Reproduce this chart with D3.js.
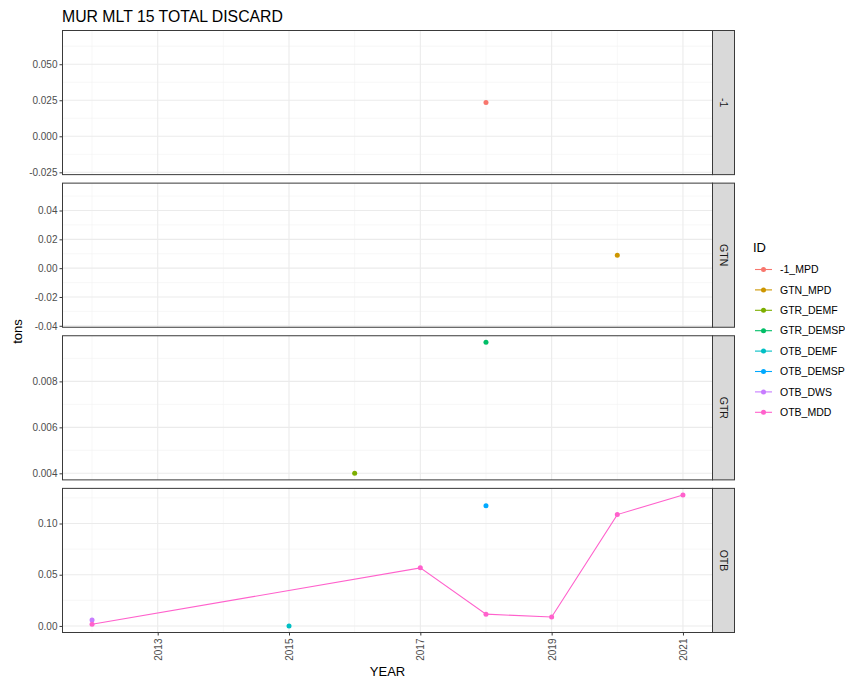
<!DOCTYPE html>
<html>
<head>
<meta charset="utf-8">
<script src="https://cdn.jsdelivr.net/npm/d3@7"></script>
<style>
  html, body { margin: 0; padding: 0; background: #fff; }
  svg { display: block; font-family: "Liberation Sans", Arial, sans-serif; }
</style>
</head>
<body>
<svg id="chart" width="845" height="681"></svg>
<script>
// ---------- data ----------
const title = "MUR MLT 15 TOTAL DISCARD";
const xLabel = "YEAR";
const yLabel = "tons";
const facets = ["-1", "GTN", "GTR", "OTB"];
const ids = ["-1_MPD", "GTN_MPD", "GTR_DEMF", "GTR_DEMSP", "OTB_DEMF", "OTB_DEMSP", "OTB_DWS", "OTB_MDD"];
const idFacet = ["-1", "GTN", "GTR", "GTR", "OTB", "OTB", "OTB", "OTB"];
const idColors = ["#F8766D", "#CD9600", "#7CAE00", "#00BE67", "#00BFC4", "#00A9FF", "#C77CFF", "#FF61CC"];

const yearsM1MPD = [2018];        const valsM1MPD = [0.0234];
const yearsGTNMPD = [2020];       const valsGTNMPD = [0.009];
const yearsGTRDEMF = [2016];      const valsGTRDEMF = [0.004];
const yearsGTRDEMSP = [2018];     const valsGTRDEMSP = [0.0097];
const yearsOTBDEMF = [2015];      const valsOTBDEMF = [0.0];
const yearsOTBDEMSP = [2018];     const valsOTBDEMSP = [0.1173];
const yearsOTBDWS = [2012];       const valsOTBDWS = [0.0058];
const yearsOTBMDD = [2012, 2017, 2018, 2019, 2020, 2021];
const valsOTBMDD = [0.0016, 0.0567, 0.0115, 0.0087, 0.1087, 0.1279];

const xTicks = [2013, 2015, 2017, 2019, 2021];
const xMinor = [2012, 2014, 2016, 2018, 2020];
const yTicksM1 = [-0.025, 0.000, 0.025, 0.050];
const yTicksGTN = [-0.04, -0.02, 0.00, 0.02, 0.04];
const yTicksGTR = [0.004, 0.006, 0.008];
const yTicksOTB = [0.00, 0.05, 0.10];
const yDecimals = [3, 2, 3, 2];

// ---------- assemble ----------
const seriesYears = [yearsM1MPD, yearsGTNMPD, yearsGTRDEMF, yearsGTRDEMSP, yearsOTBDEMF, yearsOTBDEMSP, yearsOTBDWS, yearsOTBMDD];
const seriesVals = [valsM1MPD, valsGTNMPD, valsGTRDEMF, valsGTRDEMSP, valsOTBDEMF, valsOTBDEMSP, valsOTBDWS, valsOTBMDD];
const series = ids.map((id, i) => ({
  id, facet: idFacet[i], color: idColors[i],
  pts: seriesYears[i].map((y, j) => ({ year: y, value: seriesVals[i][j] }))
}));
const yTicksAll = [yTicksM1, yTicksGTN, yTicksGTR, yTicksOTB];

// ---------- layout ----------
const svg = d3.select("#chart");
const panelLeft = 62.5, panelRight = 712.5;
const stripW = 22;
const topY = 30.5, bottomY = 632.5;
const gap = 8.5;
const panelH = (bottomY - topY - gap * 3) / 4;
const borderCol = "#3a3a3a";

const allYears = seriesYears.flat();
const xMin = d3.min(allYears), xMax = d3.max(allYears);
const xPad = (xMax - xMin) * 0.05;
const x = d3.scaleLinear().domain([xMin - xPad, xMax + xPad]).range([panelLeft, panelRight]);

// title
svg.append("text").attr("x", 62).attr("y", 21.5)
  .attr("font-size", 15.8).attr("fill", "#000").text(title);

facets.forEach((f, fi) => {
  const py0 = topY + fi * (panelH + gap);
  const py1 = py0 + panelH;
  const fs = series.filter(s => s.facet === f);
  const vals = fs.flatMap(s => s.pts.map(p => p.value));
  let lo = d3.min(vals), hi = d3.max(vals);
  const w = (hi - lo) === 0 ? 1 : (hi - lo);
  lo -= w * 0.05; hi += w * 0.05;
  const y = d3.scaleLinear().domain([lo, hi]).range([py1, py0]);
  const ticks = yTicksAll[fi];
  const step = ticks[1] - ticks[0];
  const minorY = [];
  for (let t = ticks[0] - step / 2; t <= hi; t += step) {
    if (t >= lo && t <= hi) minorY.push(t);
  }

  const g = svg.append("g");
  g.append("rect").attr("x", panelLeft).attr("y", py0)
    .attr("width", panelRight - panelLeft).attr("height", panelH).attr("fill", "#fff");

  // minor grid
  g.selectAll(".ymin").data(minorY).enter().append("line")
    .attr("x1", panelLeft).attr("x2", panelRight)
    .attr("y1", d => y(d)).attr("y2", d => y(d))
    .attr("stroke", "#F2F2F2").attr("stroke-width", 0.6);
  g.selectAll(".xmin").data(xMinor).enter().append("line")
    .attr("y1", py0).attr("y2", py1)
    .attr("x1", d => x(d)).attr("x2", d => x(d))
    .attr("stroke", "#F2F2F2").attr("stroke-width", 0.6);
  // major grid
  g.selectAll(".ymaj").data(ticks).enter().append("line")
    .attr("x1", panelLeft).attr("x2", panelRight)
    .attr("y1", d => y(d)).attr("y2", d => y(d))
    .attr("stroke", "#EBEBEB").attr("stroke-width", 1.1);
  g.selectAll(".xmaj").data(xTicks).enter().append("line")
    .attr("y1", py0).attr("y2", py1)
    .attr("x1", d => x(d)).attr("x2", d => x(d))
    .attr("stroke", "#EBEBEB").attr("stroke-width", 1.1);

  // lines & points
  const line = d3.line().x(d => x(d.year)).y(d => y(d.value));
  fs.forEach(s => {
    if (s.pts.length > 1) {
      g.append("path").datum(s.pts).attr("d", line)
        .attr("fill", "none").attr("stroke", s.color).attr("stroke-width", 1.1);
    }
    g.selectAll(null).data(s.pts).enter().append("circle")
      .attr("cx", d => x(d.year)).attr("cy", d => y(d.value)).attr("r", 2.5)
      .attr("fill", s.color);
  });

  // y axis
  const fmt = d3.format("." + yDecimals[fi] + "f");
  const yAxis = d3.axisLeft(y).tickValues(ticks).tickSize(3).tickPadding(2)
    .tickFormat(d => fmt(d).replace("−", "-"));
  const ga = svg.append("g").attr("transform", `translate(${panelLeft},0)`).call(yAxis);
  ga.select(".domain").remove();
  ga.selectAll(".tick line").attr("stroke", borderCol).attr("stroke-width", 1);
  ga.selectAll(".tick text").attr("fill", "#4D4D4D").attr("font-size", 10)
    .attr("font-family", "Liberation Sans, Arial, sans-serif");

  // panel border
  svg.append("rect").attr("x", panelLeft).attr("y", py0)
    .attr("width", panelRight - panelLeft).attr("height", panelH)
    .attr("fill", "none").attr("stroke", borderCol).attr("stroke-width", 1);

  // strip
  svg.append("rect").attr("x", panelRight).attr("y", py0)
    .attr("width", stripW).attr("height", panelH)
    .attr("fill", "#D9D9D9").attr("stroke", borderCol).attr("stroke-width", 1);
  svg.append("text")
    .attr("transform", `translate(${panelRight + stripW / 2},${(py0 + py1) / 2}) rotate(90)`)
    .attr("text-anchor", "middle").attr("dy", "0.35em")
    .attr("font-size", 10.5).attr("fill", "#1A1A1A").text(f);

  // x axis on last panel
  if (fi === facets.length - 1) {
    const xAxis = d3.axisBottom(x).tickValues(xTicks).tickSize(3).tickFormat(d3.format("d"));
    const gx = svg.append("g").attr("transform", `translate(0,${py1})`).call(xAxis);
    gx.select(".domain").remove();
    gx.selectAll(".tick line").attr("stroke", borderCol).attr("stroke-width", 1);
    gx.selectAll(".tick text")
      .attr("fill", "#4D4D4D").attr("font-size", 10)
      .attr("font-family", "Liberation Sans, Arial, sans-serif")
      .attr("transform", "rotate(-90)")
      .attr("text-anchor", "end")
      .attr("x", -6).attr("y", 0).attr("dy", "0.35em");
  }
});

// axis titles
svg.append("text").attr("x", (panelLeft + panelRight) / 2).attr("y", 675.5)
  .attr("text-anchor", "middle").attr("font-size", 13).attr("fill", "#000").text(xLabel);
svg.append("text")
  .attr("transform", `translate(22,${(topY + bottomY) / 2}) rotate(-90)`)
  .attr("text-anchor", "middle").attr("font-size", 13).attr("fill", "#000").text(yLabel);

// legend
const lg = svg.append("g");
lg.append("text").attr("x", 753).attr("y", 252).attr("font-size", 13).attr("fill", "#000").text("ID");
const keyY0 = 269.5, keyStep = 20.4;
ids.forEach((id, i) => {
  const ky = keyY0 + i * keyStep;
  lg.append("line").attr("x1", 755).attr("x2", 772).attr("y1", ky).attr("y2", ky)
    .attr("stroke", idColors[i]).attr("stroke-width", 1.1);
  lg.append("circle").attr("cx", 763.5).attr("cy", ky).attr("r", 2.5).attr("fill", idColors[i]);
  lg.append("text").attr("x", 780).attr("y", ky).attr("dy", "0.35em")
    .attr("font-size", 10.5).attr("fill", "#000").text(id);
});
</script>
</body>
</html>
